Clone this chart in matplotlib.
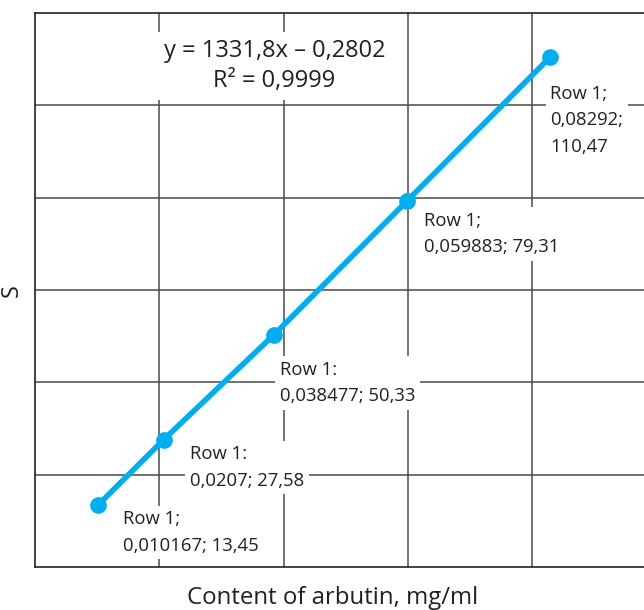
import matplotlib
matplotlib.use("Agg")
import matplotlib.pyplot as plt
import numpy as np

# Calibration data: arbutin content vs. peak area
content = [0.010167, 0.0207, 0.038477, 0.059883, 0.08292]
area = [13.45, 27.58, 50.33, 79.31, 110.47]
series_name = "Row 1"
separators = [";", ":", ":", ";", ";"]
equation = "y = 1331,8x \u2013 0,2802"
r_squared = "R\u00b2 = 0,9999"
x_title = "Content of arbutin, mg/ml"
y_title = "S"

plt.rcParams["font.family"] = ["Open Sans", "DejaVu Sans"]

fig = plt.figure(figsize=(6.44, 6.10), dpi=100)
ax = fig.add_axes([35 / 644, 43 / 610, 609 / 644, 554 / 610])
ax.set_xlim(0, 0.098)
ax.set_ylim(0, 120)
ax.set_xticks(np.arange(0.02, 0.098, 0.02))
ax.set_yticks(np.arange(20, 120, 20))
ax.tick_params(length=0, labelbottom=False, labelleft=False)
ax.grid(True, color="#4a4a4a", linewidth=1.1)
ax.set_axisbelow(True)
for side in ["left", "bottom", "top"]:
    ax.spines[side].set_color("#222222")
    ax.spines[side].set_linewidth(1.2)
ax.spines["right"].set_visible(False)

color = "#00aeef"
ax.plot(content, area, color=color, linewidth=4, marker="o", markersize=11,
        solid_capstyle="round", zorder=3)

def fmt(v):
    return str(v).replace(".", ",")

# Data labels placed to the lower right of each point
offsets = [(18, -4), (19, -4), (4, -19), (12, -8), (0, -20)]
for i, (xv, yv) in enumerate(zip(content, area)):
    sep = separators[i]
    if i == len(content) - 1:
        txt = f"{series_name}{sep}\n{fmt(xv)};\n{fmt(yv)}"
    else:
        txt = f"{series_name}{sep}\n{fmt(xv)}; {fmt(yv)}"
    ax.annotate(txt, (xv, yv), xytext=offsets[i], textcoords="offset points",
                ha="left", va="top", fontsize=13.3, color="#231f20",
                linespacing=1.6, zorder=4,
                bbox=dict(boxstyle="square,pad=0.25", fc="white", ec="none"))

ax.text(0.0385, 108.5, equation + "\n" + r_squared, ha="center", va="center",
        fontsize=17, color="#231f20", linespacing=1.35, zorder=4,
        bbox=dict(boxstyle="square,pad=0.3", fc="white", ec="none"))

fig.text(333 / 644, 1 - 598 / 610, x_title, ha="center", va="center",
         fontsize=17.3, color="#231f20")
fig.text(12 / 644, 1 - 291 / 610, y_title, ha="center", va="center",
         rotation=90, fontsize=17, color="#231f20")

fig.savefig("out.png", dpi=100)
